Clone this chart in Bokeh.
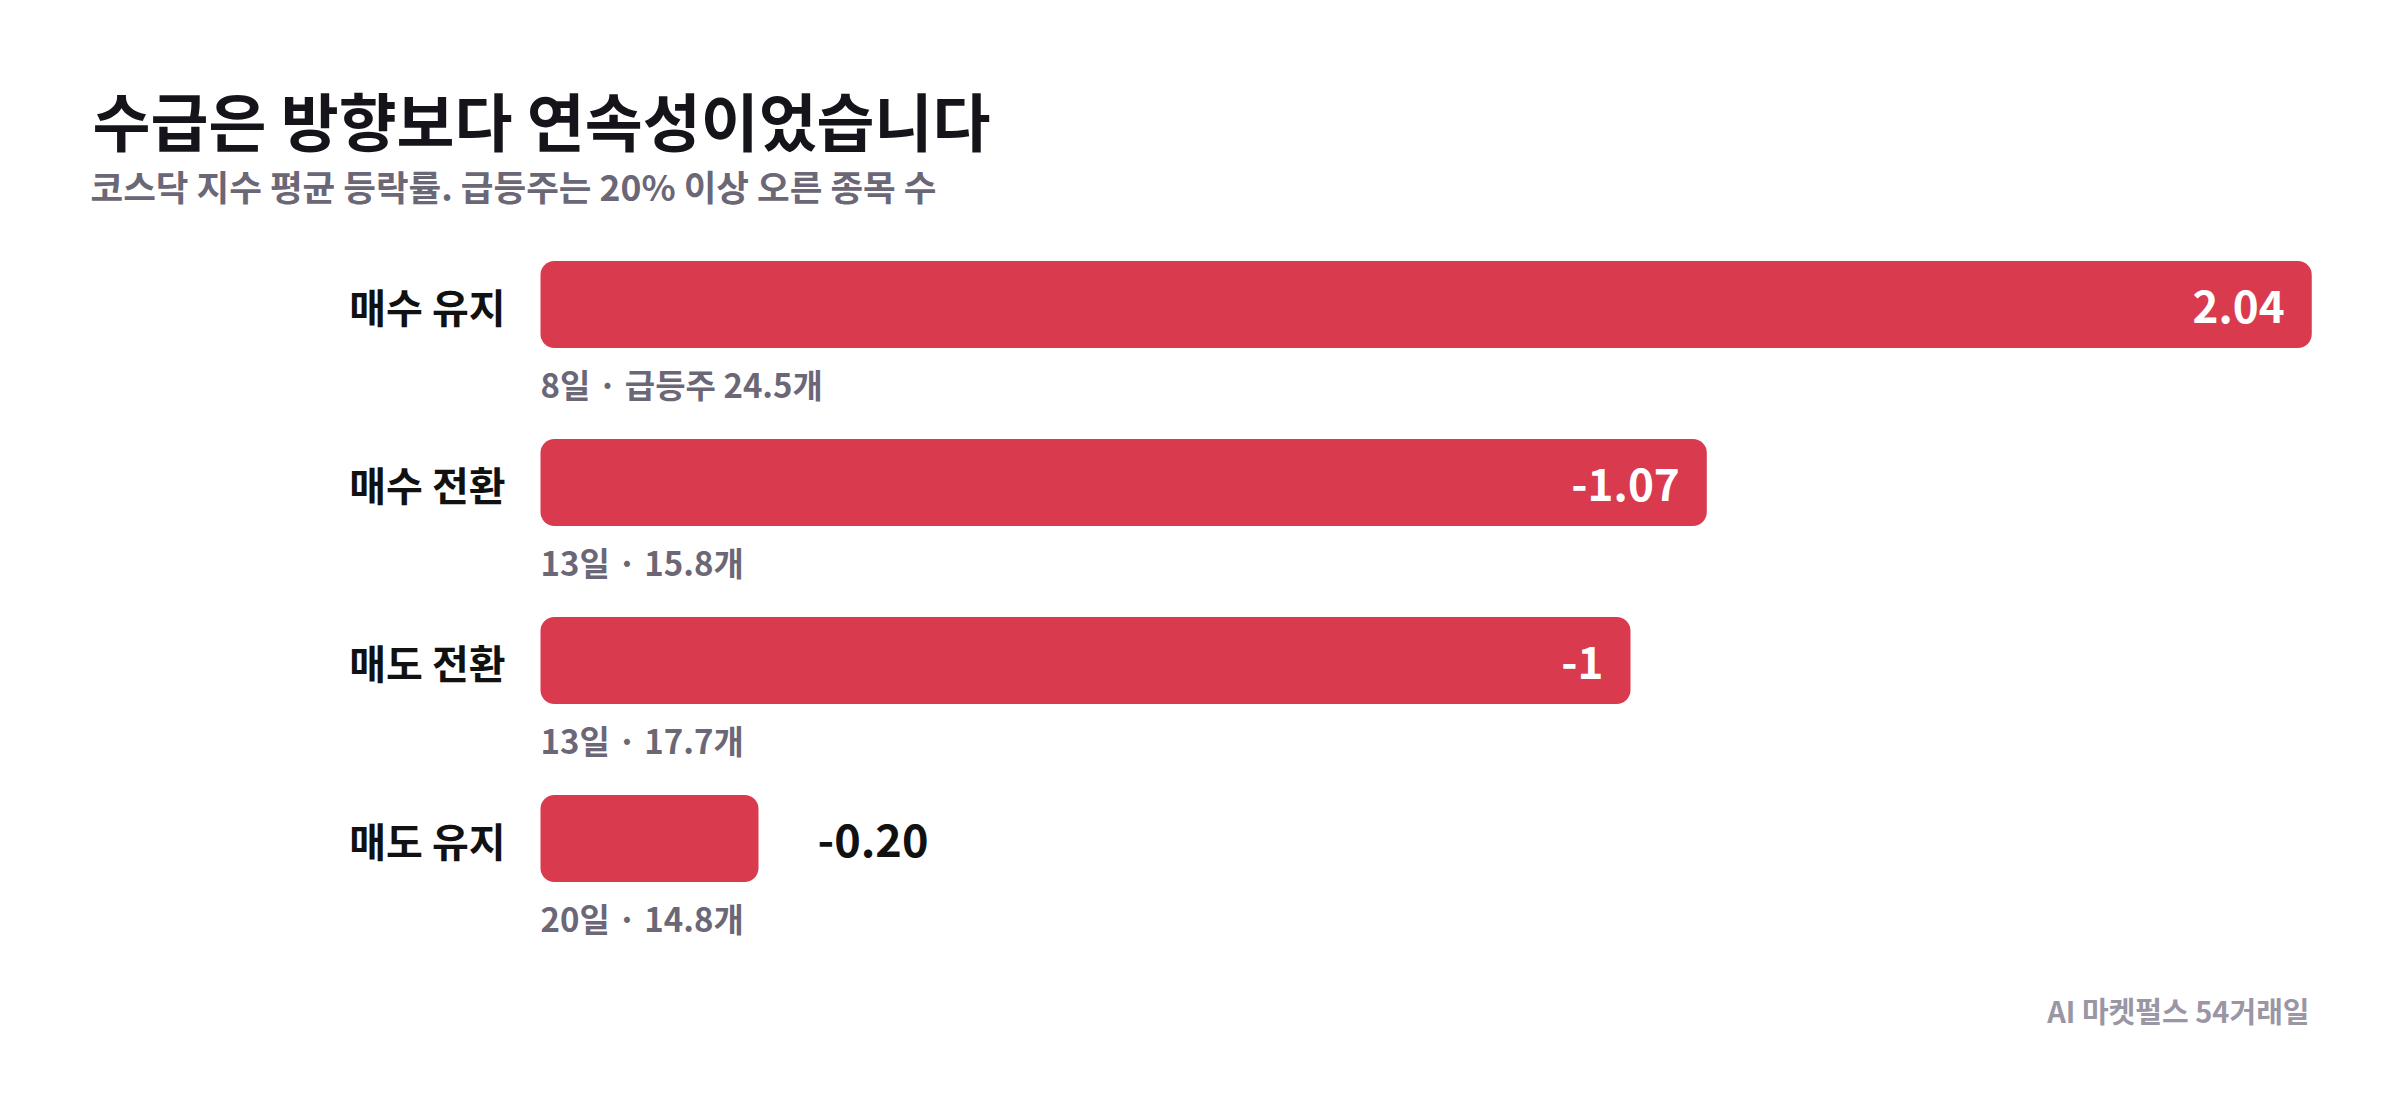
from bokeh.plotting import figure
from bokeh.models import ColumnDataSource, Range1d, Label
from bokeh.embed import file_html
from bokeh.resources import INLINE
from bokeh.core.properties import value

# ---- data ----
categories = ["매수 유지", "매수 전환", "매도 전환", "매도 유지"]
avg_change = [2.04, -1.07, -1.00, -0.20]
value_labels = ["2.04", "-1.07", "-1", "-0.20"]
days = [8, 13, 13, 20]
surge_counts = [24.5, 15.8, 17.7, 14.8]
detail_labels = ["8일 · 급등주 24.5개", "13일 · 15.8개", "13일 · 17.7개", "20일 · 14.8개"]

title_text = "수급은 방향보다 연속성이었습니다"
subtitle_text = "코스닥 지수 평균 등락률. 급등주는 20% 이상 오른 종목 수"
footer_text = "AI 마켓펄스 54거래일"

# ---- layout ----
W, H = 2384, 1092
PX_PER_UNIT = 1090.0
ZERO_X = 540.0
ROW_PITCH = 178.0
ROW0_Y = 304.0
BAR_CAP = 1.625
BAR_H_PX = 87.0
RED = "#d93a4e"
FONT = "Noto Sans CJK KR"

n = len(categories)
rows = list(range(n))
bar_len = [min(abs(v), BAR_CAP) for v in avg_change]
inside = [abs(v) >= 0.5 for v in avg_change]

src = ColumnDataSource(dict(row=rows, cat=categories, length=bar_len,
                            detail=detail_labels, vlab=value_labels))
src_in = ColumnDataSource(dict(row=[r for r, i in zip(rows, inside) if i],
                               length=[l for l, i in zip(bar_len, inside) if i],
                               vlab=[t for t, i in zip(value_labels, inside) if i]))
src_out = ColumnDataSource(dict(row=[r for r, i in zip(rows, inside) if not i],
                                length=[l for l, i in zip(bar_len, inside) if not i],
                                vlab=[t for t, i in zip(value_labels, inside) if not i]))

p = figure(width=W, height=H, output_backend="svg", toolbar_location=None,
           x_axis_type=None, y_axis_type=None, min_border=0,
           x_range=Range1d(-ZERO_X / PX_PER_UNIT, (W - ZERO_X) / PX_PER_UNIT),
           y_range=Range1d((H - ROW0_Y) / ROW_PITCH, -ROW0_Y / ROW_PITCH))
p.grid.visible = False
p.outline_line_color = None
p.background_fill_color = "white"
p.border_fill_color = "white"

p.hbar(y="row", left=0, right="length", height=BAR_H_PX / ROW_PITCH, source=src,
       fill_color=RED, line_color=None, border_radius=14)

p.text(x=0, y="row", text="cat", source=src, x_offset=-35, y_offset=1,
       text_align="right", text_baseline="middle",
       text_font=value(FONT), text_font_style="bold", text_font_size="40px",
       text_color="#111111")

p.text(x=0, y="row", text="detail", source=src, y_offset=79,
       text_align="left", text_baseline="middle",
       text_font=value(FONT), text_font_style="bold", text_font_size="33px",
       text_color="#6b6776")

p.text(x="length", y="row", text="vlab", source=src_in, x_offset=-27, y_offset=2,
       text_align="right", text_baseline="middle",
       text_font=value(FONT), text_font_style="bold", text_font_size="44px",
       text_color="white")

p.text(x="length", y="row", text="vlab", source=src_out, x_offset=59, y_offset=2,
       text_align="left", text_baseline="middle",
       text_font=value(FONT), text_font_style="bold", text_font_size="45px",
       text_color="#111111")

p.add_layout(Label(x=92, y=H - 118, x_units="screen", y_units="screen",
                   text=title_text, text_baseline="middle", text_align="left",
                   text_font=FONT, text_font_style="bold", text_font_size="63px",
                   text_color="#16141a"))
p.add_layout(Label(x=90, y=H - 185, x_units="screen", y_units="screen",
                   text=subtitle_text, text_baseline="middle", text_align="left",
                   text_font=FONT, text_font_style="bold", text_font_size="35.5px",
                   text_color="#6b6776"))
p.add_layout(Label(x=2309, y=H - 1009, x_units="screen", y_units="screen",
                   text=footer_text, text_baseline="middle", text_align="right",
                   text_font=FONT, text_font_style="bold", text_font_size="29px",
                   text_color="#9a96a3"))

open("out.html", "w").write(file_html(p, INLINE))
